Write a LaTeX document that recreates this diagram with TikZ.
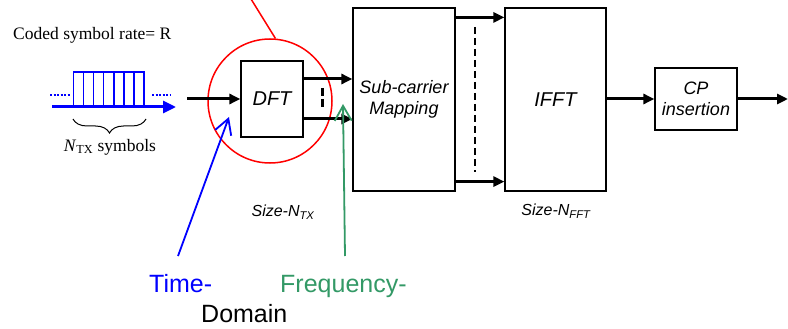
\documentclass[tikz,border=0pt]{standalone}
\usepackage{fontspec}
\setmainfont{Liberation Sans}
\newfontfamily\timesrm{Liberation Serif}
\usepackage{xcolor}
\usetikzlibrary{arrows.meta, positioning, calc, decorations.pathreplacing}
\definecolor{tdblue}{RGB}{0,0,255}
\definecolor{fdgreen}{RGB}{51,153,102}
\definecolor{zoomred}{RGB}{255,0,0}

\begin{document}
\begin{tikzpicture}[x=1pt,y=-1pt,
  blk/.style={draw, line width=1.2pt, inner sep=0pt, align=center, font=\fontsize{18}{21}\selectfont\itshape},
  sig/.style={-{Triangle[length=11pt,width=10pt]}, line width=3pt},
  pointer/.style={-{Straight Barb[length=15pt,width=17pt]}, line width=1.8pt},
  bigtxt/.style={anchor=base west, inner sep=0pt, font=\fontsize{25}{28}\selectfont}]
  \useasboundingbox (0,0) rectangle (788,329);
  \node[draw=zoomred, line width=1.5pt, circle, minimum size=124] (zoomc) at (270,101) {};
  \coordinate (redend) at (251,-1);
  \draw[zoomred, line width=1.5pt] (zoomc.85) -- (redend);

  \node[blk, minimum width=62, minimum height=76, font=\fontsize{20}{22}\selectfont\itshape] (dft) at (272,99) {DFT};
  \node[blk, minimum width=102, minimum height=183] (scm) at (404,99.5) {Sub-carrier\\Mapping};
  \node[blk, minimum width=101, minimum height=183, font=\fontsize{20}{22}\selectfont\itshape] (ifft) at (555.5,99.5) {IFFT};
  \node[blk, minimum width=82, minimum height=62] (cp) at (696,99) {CP\\insertion};

  \coordinate (dftin) at (187,99);
  \coordinate (txout) at (788,99);
  \draw[sig] (dftin) -- (dft.west);
  \draw[sig] ([yshift=20pt]dft.east) -- ([yshift=20pt]dft.east -| scm.west);
  \draw[sig] ([yshift=-20pt]dft.east) -- ([yshift=-20pt]dft.east -| scm.west);
  \draw[line width=3pt, dash pattern=on 8pt off 3pt] (322,88) -- (322,107);
  \draw[sig] ([yshift=-10pt]scm.north east) -- ([yshift=-10pt]ifft.north west);
  \draw[sig] ([yshift=10pt]scm.south east) -- ([yshift=10pt]ifft.south west);
  \draw[line width=2.4pt, dash pattern=on 7pt off 4pt] (475,27) -- (475,172);
  \draw[sig] (ifft.east |- cp.west) -- (cp.west);
  \draw[sig] (cp.east) -- (txout);

  \coordinate (pin) at (52,107);
  \coordinate (pout) at (176,107);
  \draw[tdblue, line width=3pt, -{Triangle[length=13pt,width=12pt]}] (pin) -- (pout);
  \foreach \i in {0,...,6}
    \draw[tdblue, line width=1.6pt] (73.3+\i*10.1,107) rectangle ++(10.1,-35);
  \draw[tdblue, line width=2pt, dash pattern=on 2pt off 1.5pt] (50,95) -- (70,95) (152,95) -- (171,95);
  \draw[decorate, decoration={brace, mirror, amplitude=14pt}, line width=1pt] (73,119) -- (146,119);
  \node[font=\timesrm\fontsize{17.5}{20}\selectfont] (nsym) at (110,147) {\textit{N}\textsubscript{TX} symbols};
  \node[anchor=base west, inner sep=0pt, font=\timesrm\fontsize{17.5}{20}\selectfont] (rate) at (13,40) {Coded symbol rate= R};

  \node[font=\fontsize{16}{18}\selectfont\itshape] (sizetx) at (283,212) {Size-N\textsubscript{TX}};
  \node[font=\fontsize{16}{18}\selectfont\itshape] (sizefft) at (556,211) {Size-N\textsubscript{FFT}};

  \node[bigtxt, text=tdblue] (timel) at (149,292) {Time-};
  \node[bigtxt, text=fdgreen] (freql) at (280,292) {Frequency-};
  \node[bigtxt] (doml) at (201,322) {Domain};

  \coordinate (ttail) at (178,256);
  \coordinate (ttip) at (229,117);
  \coordinate (ftail) at (345,256);
  \coordinate (ftip) at (343,104);
  \draw[pointer, tdblue] (ttail) -- (ttip);
  \draw[pointer, fdgreen] (ftail) -- (ftip);
\end{tikzpicture}
\end{document}
